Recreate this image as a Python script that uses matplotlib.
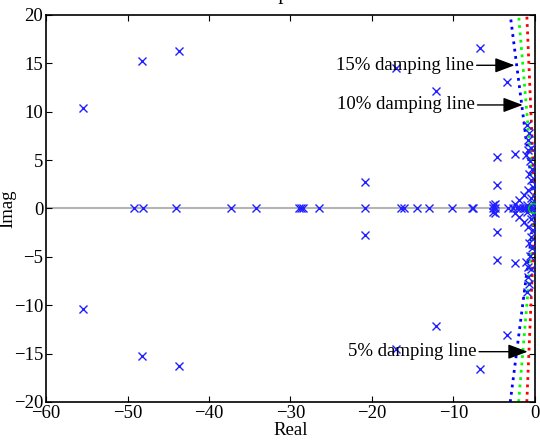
import numpy as np
import matplotlib
matplotlib.use("Agg")
import matplotlib.pyplot as plt

plt.rcParams["font.family"] = ["Liberation Serif", "DejaVu Serif"]
plt.rcParams["font.size"] = 13.5

# complex poles, upper half (lower half is the mirror)
cplx_re = [-55.5, -48.2, -43.7, -20.8, -17.1, -12.1, -6.7, -3.4, -4.6, -4.6, -2.5, -1.1,
           -1.0, -0.7, -0.9, -0.5, -0.8, -0.6, -0.4, -0.7, -0.5, -0.3, -0.9, -1.4,
           -0.5, -1.9, -0.3, -2.4, -1.0, -5.1, -4.9]
cplx_im = [10.4, 15.2, 16.3, 2.7, 14.5, 12.1, 16.6, 13.1, 5.3, 2.4, 5.6, 5.5,
           8.6, 7.8, 7.1, 6.3, 6.0, 4.9, 4.1, 3.6, 2.9, 2.2, 1.9, 1.4,
           1.1, 0.9, 0.6, 0.5, 0.4, 0.4, 0.5]

# real poles
real_poles = [-49.2, -48.1, -44.0, -37.3, -34.2, -28.9, -28.7, -28.5, -26.5, -20.8,
              -16.5, -16.1, -14.5, -13.05, -10.2, -7.7, -7.55, -5.1, -4.9, -3.3,
              -2.7, -2.2, -1.8, -1.5, -1.2, -0.9, -0.6, -0.4, -0.2]

zeros_re = [-0.25]
zeros_im = [0.0]

# damping ratios and colours for the lines
zetas = [0.15, 0.10, 0.05]
zeta_colors = ["#0000ff", "#00ff00", "#ff0000"]

fig = plt.figure(figsize=(5.4, 4.47), dpi=100)
ax = fig.add_axes([0.0852, 0.1007, 0.9055, 0.8658])

ax.axhline(0, color="#b4b4b4", lw=1.5, zorder=0)

# damping lines
wd = np.array([-20, 0, 20])
for z, c in zip(zetas, zeta_colors):
    ax.plot(-z / np.sqrt(1 - z**2) * np.abs(wd), wd, ls=":", color=c, lw=2, zorder=2)

re = np.array(cplx_re)
im = np.array(cplx_im)
ax.plot(np.concatenate([re, re, real_poles]),
        np.concatenate([im, -im, np.zeros(len(real_poles))]),
        "x", color="#2020ff", ms=6, mew=1.0, zorder=3)
ax.plot(zeros_re, zeros_im, "o", mfc="none", mec="#00cc00", ms=7, mew=1.0, zorder=3)

arrow = dict(arrowstyle="-|>,head_length=0.8,head_width=0.3", color="black", lw=1,
             mutation_scale=15, shrinkA=0, shrinkB=0)
ax.annotate("15% damping line", xy=(-2.5, 14.8), xytext=(-7.5, 14.8),
            ha="right", va="center", arrowprops=arrow)
ax.annotate("10% damping line", xy=(-1.5, 10.7), xytext=(-7.4, 10.7),
            ha="right", va="center", arrowprops=arrow)
ax.annotate("5% damping line", xy=(-0.9, -14.8), xytext=(-7.2, -14.8),
            ha="right", va="center", arrowprops=arrow)

ax.set_xlim(-60, 0)
ax.set_ylim(-20, 20)
ax.set_xticks(np.arange(-60, 1, 10))
ax.set_yticks(np.arange(-20, 21, 5))
ax.tick_params(direction="in", top=True, right=True, length=4, pad=2)
for s in ax.spines.values():
    s.set_linewidth(1.2)
ax.set_xlabel("Real", labelpad=0)
ax.set_ylabel("Imag", labelpad=-2)

# title mostly cut off at the top of the picture
fig.text(0.535, 1.003, "Pole Map", ha="right", va="baseline", fontsize=15)

fig.savefig("out.png", dpi=100)
